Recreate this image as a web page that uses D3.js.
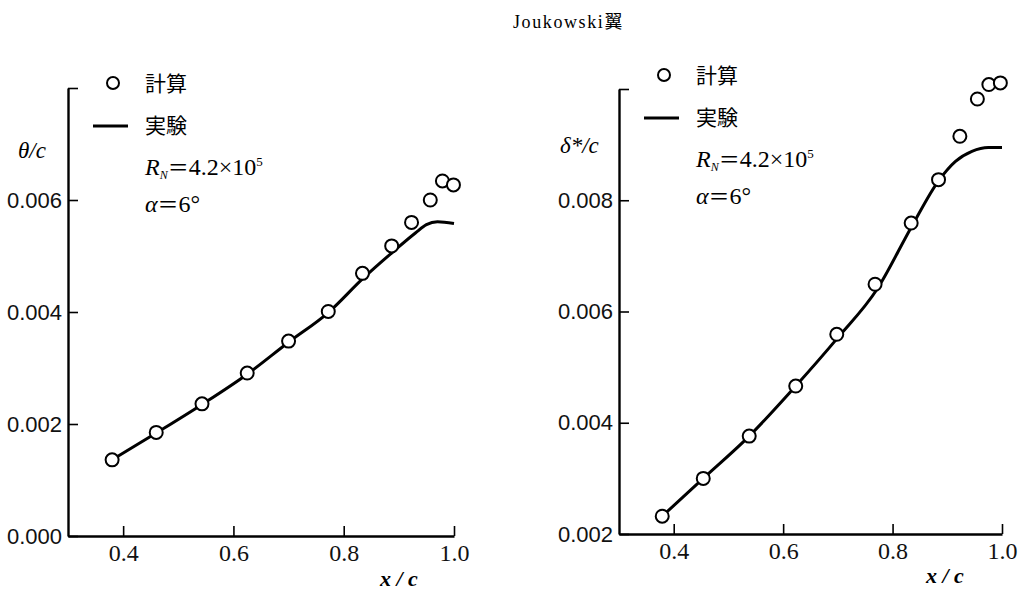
<!DOCTYPE html>
<html>
<head>
<meta charset="utf-8">
<script src="https://cdn.jsdelivr.net/npm/d3@7"></script>
<style>
  body { margin: 0; background: #fff; }
  svg { display: block; }
  .tick text { fill: #111; }
</style>
</head>
<body>
<svg id="chart" width="1020" height="593"></svg>
<script>
var calcX = [0.38, 0.46, 0.543, 0.625, 0.70, 0.772, 0.834, 0.887, 0.923, 0.957, 0.979, 0.999]
var calcTheta = [0.00136, 0.00185, 0.00236, 0.00291, 0.00348, 0.00401, 0.00469, 0.00518, 0.00560, 0.00600, 0.00634, 0.00627]
var expXTheta = [0.38, 0.46, 0.543, 0.625, 0.70, 0.772, 0.835, 0.89, 0.93, 0.95, 0.97, 1.0]
var expTheta = [0.00136, 0.00184, 0.00235, 0.00289, 0.00346, 0.00399, 0.00460, 0.00508, 0.00541, 0.00556, 0.00561, 0.00558]

var calcXDelta = [0.379, 0.454, 0.538, 0.623, 0.698, 0.768, 0.834, 0.884, 0.923, 0.955, 0.976, 0.997]
var calcDelta = [0.00232, 0.00300, 0.00376, 0.00466, 0.00559, 0.00649, 0.00759, 0.00837, 0.00915, 0.00982, 0.01008, 0.01011]
var expXDelta = [0.379, 0.454, 0.538, 0.623, 0.70, 0.771, 0.835, 0.884, 0.915, 0.945, 0.975, 1.0]
var expDelta = [0.00232, 0.00300, 0.00376, 0.00466, 0.00553, 0.00639, 0.00753, 0.00835, 0.00870, 0.00888, 0.00895, 0.00895]

var xTicks = [0.4, 0.6, 0.8, 1.0]
var thetaTicks = [0, 0.002, 0.004, 0.006, 0.008]
var deltaTicks = [0.002, 0.004, 0.006, 0.008, 0.010]

var svg = d3.select('#chart')
var serif = '"Liberation Serif", "DejaVu Serif", serif'
var sans = '"Liberation Sans", "DejaVu Sans", sans-serif'
var cjk = '"Noto Sans CJK JP", "Noto Sans CJK SC", sans-serif'

svg.append('text')
  .attr('x', 513).attr('y', 28)
  .style('font-family', serif).style('font-size', '18px')
  .style('letter-spacing', '1.6px')
  .text('Joukowski')
  .append('tspan').style('font-family', cjk).text('翼')

function drawPanel(p){
  var x = d3.scaleLinear().domain([0.3, 1.0]).range([p.left, p.right])
  var y = d3.scaleLinear().domain(p.yDomain).range([p.bottom, p.top])
  var g = svg.append('g')

  var yAxis = d3.axisLeft(y).tickValues(p.yTicks)
    .tickSizeInner(-10).tickSizeOuter(0).tickPadding(6)
    .tickFormat(function(d, i){ return i == p.yTicks.length - 1 ? '' : d3.format('.3f')(d) })
  var ya = g.append('g').attr('transform', 'translate(' + p.left + ',0)').call(yAxis)
  ya.attr('font-family', null)
  ya.selectAll('text').style('font-family', sans).style('font-size', '22px')
  ya.select('.domain').attr('stroke-width', 2.4)
  ya.selectAll('.tick line').attr('stroke-width', 1.6)

  var xAxis = d3.axisBottom(x).tickValues(xTicks)
    .tickSizeInner(-10).tickSizeOuter(0).tickPadding(8)
    .tickFormat(d3.format('.1f'))
  var xa = g.append('g').attr('transform', 'translate(0,' + p.bottom + ')').call(xAxis)
  xa.attr('font-family', null)
  xa.selectAll('text').style('font-family', serif).style('font-size', '24px')
  xa.select('.domain').attr('stroke-width', 2.4)
  xa.selectAll('.tick line').attr('stroke-width', 1.6)

  var line = d3.line()
    .x(function(d){ return x(d[0]) })
    .y(function(d){ return y(d[1]) })
    .curve(d3.curveMonotoneX)
  g.append('path')
    .datum(d3.zip(p.expX, p.expY))
    .attr('d', line)
    .attr('fill', 'none').attr('stroke', '#000').attr('stroke-width', 3)

  g.selectAll('circle.calc')
    .data(d3.zip(p.calcX, p.calcY)).enter()
    .append('circle')
    .attr('class', 'calc')
    .attr('cx', function(d){ return x(d[0]) })
    .attr('cy', function(d){ return y(d[1]) })
    .attr('r', 6.5)
    .attr('fill', '#fff').attr('stroke', '#000').attr('stroke-width', 2)

  // axis titles
  g.append('text')
    .attr('x', p.yLabel[0]).attr('y', p.yLabel[1])
    .style('font-family', serif).style('font-style', 'italic').style('font-size', '23px')
    .text(p.yTitle)
  g.append('text')
    .attr('x', p.xLabel[0]).attr('y', p.xLabel[1])
    .style('font-family', serif).style('font-style', 'italic').style('font-weight', 'bold')
    .style('font-size', '22px')
    .text('x / c')

  // legend block
  var lx = p.legend[0], ly = p.legend[1]
  g.append('circle').attr('cx', lx).attr('cy', ly).attr('r', 6)
    .attr('fill', '#fff').attr('stroke', '#000').attr('stroke-width', 2)
  g.append('text').attr('x', lx + 32).attr('y', ly + 8)
    .style('font-family', cjk).style('font-size', '21px').text('計算')
  g.append('line').attr('x1', lx - 20).attr('x2', lx + 15).attr('y1', ly + 43).attr('y2', ly + 43)
    .attr('stroke', '#000').attr('stroke-width', 3)
  g.append('text').attr('x', lx + 32).attr('y', ly + 50)
    .style('font-family', cjk).style('font-size', '21px').text('実験')
  var rn = g.append('text').attr('x', lx + 32).attr('y', ly + 92)
    .style('font-family', serif).style('font-size', '24px')
  rn.append('tspan').style('font-style', 'italic').text('R')
  rn.append('tspan').attr('dy', 4).style('font-size', '12px').style('font-style', 'italic').text('N')
  rn.append('tspan').attr('dy', -4).style('font-family', cjk).style('font-size', '21px').text('＝')
  rn.append('tspan').text('4.2×10')
  rn.append('tspan').attr('dy', -9).style('font-size', '13px').text('5')
  var al = g.append('text').attr('x', lx + 32).attr('y', ly + 129)
    .style('font-family', serif).style('font-size', '24px')
  al.append('tspan').style('font-style', 'italic').text('α')
  al.append('tspan').style('font-family', cjk).style('font-size', '21px').text('＝')
  al.append('tspan').text('6°')
}

drawPanel({
  left: 68, right: 454, top: 88, bottom: 536,
  yDomain: [0, 0.008], yTicks: thetaTicks,
  calcX: calcX, calcY: calcTheta, expX: expXTheta, expY: expTheta,
  yTitle: 'θ/c', yLabel: [18, 158], xLabel: [380, 586],
  legend: [113, 83]
})

drawPanel({
  left: 619, right: 1002, top: 89, bottom: 534,
  yDomain: [0.002, 0.010], yTicks: deltaTicks,
  calcX: calcXDelta, calcY: calcDelta, expX: expXDelta, expY: expDelta,
  yTitle: 'δ*/c', yLabel: [560, 153], xLabel: [926, 583],
  legend: [664, 75]
})
</script>
</body>
</html>
